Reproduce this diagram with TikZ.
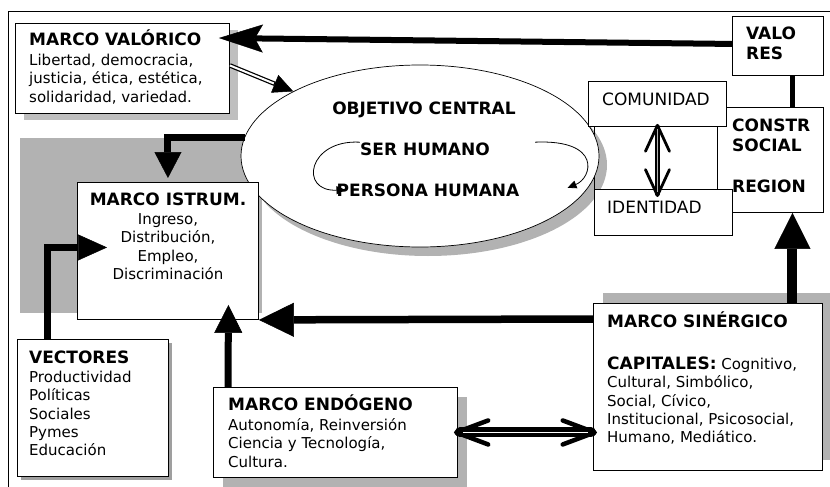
\documentclass[tikz,border=0pt]{standalone}
\usepackage{fontspec}
\setmainfont{DejaVu Sans}
\usetikzlibrary{arrows.meta,shapes.geometric}
\newcommand\bodysize{\fontsize{15}{18.3}\selectfont}
\newcommand\headsize{\fontsize{17}{20}\selectfont\bfseries}
\newcommand\lineup{\rule{0pt}{16pt}}

\begin{document}
\begin{tikzpicture}[x=1pt,y=-1pt,
    box/.style={draw,fill=white,line width=0.9pt,inner sep=0pt,anchor=north west},
    drop/.style={fill=gray!60},
    boxtext/.style={anchor=north west,inner sep=0pt,align=left,font=\bodysize},
    headtext/.style={inner sep=0pt,font=\headsize},
    fat/.style={line width=7pt},
    ]
  \useasboundingbox (0,0) rectangle (830,487);
  \draw[line width=1pt] (8,490) -- (8,12) -- (834,12);

  \fill[gray!50] (24,30) rectangle (238,120);
  \fill[drop] (20,138) rectangle (262,313);
  \fill[drop] (428,165) ellipse [x radius=179pt,y radius=91pt];
  \fill[gray!75] (21,343) rectangle (172,480);
  \fill[drop] (223,397) rectangle (467,490);
  \fill[drop] (603,293) rectangle (834,460);
  \draw[line width=0.9pt] (594,110) rectangle (717,230);

  \node[ellipse,draw,fill=white,line width=0.7pt,inner sep=0pt,
        minimum width=358pt,minimum height=182pt] (objetivo) at (420,156) {};
  \node[box,minimum width=214pt,minimum height=90pt] (valorico) at (15,23) {};
  \node[box,minimum width=91pt,minimum height=59pt] (valores) at (732,16) {};
  \node[box,minimum width=106pt,minimum height=105pt] (constr) at (717,107) {};
  \node[box,minimum width=138pt,minimum height=45pt] (comunidad) at (588,81) {};
  \node[box,minimum width=138pt,minimum height=46pt] (identidad) at (594,189) {};
  \node[box,minimum width=181pt,minimum height=137pt] (istrum) at (77,182) {};
  \node[box,minimum width=151pt,minimum height=137pt] (vectores) at (17,339) {};
  \node[box,minimum width=244pt,minimum height=90pt] (endogeno) at (213,387) {};
  \node[box,minimum width=229pt,minimum height=167pt] (sinergico) at (593,303) {};

  \node[boxtext] (valoricotxt) at (29,29) {{\headsize\lineup MARCO VALÓRICO}\\[2pt]
    Libertad, democracia,\\justicia, ética, estética,\\solidaridad, variedad.};
  \node[boxtext,font=\headsize] (valorestxt) at (746,23) {\lineup VALO\\RES};
  \node[boxtext,anchor=base west,font=\fontsize{17}{20}\selectfont] (comunidadtxt) at (602,105) {COMUNIDAD};
  \node[boxtext,anchor=base west,font=\fontsize{17}{20}\selectfont] (identidadtxt) at (607,213) {IDENTIDAD};
  \node[boxtext,font=\headsize] (constrtxt) at (732,115) {\lineup CONSTR\\SOCIAL\\[21pt]REGION};
  \node[boxtext,anchor=north,align=center] (istrumtxt) at (168,189) {{\headsize\lineup MARCO ISTRUM.}\\[1pt]
    Ingreso,\\Distribución,\\Empleo,\\Discriminación};
  \node[boxtext] (vectorestxt) at (29,347) {{\headsize\lineup VECTORES}\\[1pt]
    Productividad\\Políticas\\Sociales\\Pymes\\Educación};
  \node[boxtext] (endogenotxt) at (228,394) {{\headsize\lineup MARCO ENDÓGENO}\\[2pt]
    Autonomía, Reinversión\\Ciencia y Tecnología,\\Cultura.};
  \node[boxtext] (sinergicotxt) at (607,311) {{\headsize\lineup MARCO SINÉRGICO}\\[24pt]
    {\headsize CAPITALES:} Cognitivo,\\Cultural, Simbólico,\\Social, Cívico,\\
    Institucional, Psicosocial,\\Humano, Mediático.};

  \node[headtext,anchor=base] (central) at (424,114) {OBJETIVO CENTRAL};
  \node[headtext,anchor=base] (ser) at (425,155) {SER HUMANO};
  \node[headtext,anchor=base] (persona) at (428,196) {PERSONA HUMANA};

  \draw[line width=0.8pt,-{Triangle[length=9pt,width=8pt]}] (ser.north west)
    .. controls +(-52,-3) and +(-47,2) .. ([xshift=9pt]persona.west);
  \draw[line width=0.8pt,-{Triangle[length=9pt,width=8pt]}] ([xshift=45pt]ser.north east)
    .. controls +(67,-3) and +(25,-10) .. ([xshift=48pt,yshift=2pt]persona.east);

  \draw[line width=6pt,-{Stealth[length=44pt,width=28pt,inset=8pt,line width=0.5pt]}]
    ([yshift=2pt]valores.west) -- ([xshift=-11pt,yshift=-15pt]valorico.north east);
  \draw[line width=5pt] ([xshift=14.5pt]valores.south) -- ([xshift=22pt]constr.north);
  \draw[line width=10pt,-{Triangle[length=36pt,width=36pt,line width=0.5pt]}]
    ([xshift=84.5pt]sinergico.north) -- ([xshift=22pt]constr.south);
  \draw[line width=7.5pt,-{Triangle[length=35pt,width=34pt,line width=0.5pt]}]
    ([yshift=-16pt]sinergico.north west) -- (istrum.south east);
  \draw[fat,-{Triangle[length=28pt,width=28pt,line width=0.5pt]}]
    ([xshift=15pt]endogeno.north west) -- ([xshift=60.5pt,yshift=15pt]istrum.south);
  \draw[fat,-{Triangle[length=29pt,width=26pt,line width=0.5pt]}]
    ([xshift=-45.5pt]vectores.north) |- ([xshift=30pt,yshift=3.5pt]istrum.west);
  \draw[fat,-{Triangle[length=26pt,width=27pt,line width=0.5pt]}]
    ([xshift=4pt,yshift=19pt]objetivo.west) -| ([yshift=4pt]istrum.north);

  \draw[line width=4.5pt,-{Triangle[length=20pt,width=19pt,line width=0.5pt]}]
    ([yshift=3pt]valorico.east) -- (objetivo.153);
  \draw[white,line width=2pt,shorten >=21pt] ([yshift=3pt]valorico.east) -- (objetivo.153);

  \coordinate (idtop) at (comunidad.south |- identidad.north);
  \draw[line width=2.8pt,{Straight Barb[length=26pt,width=24pt,round]}-{Straight Barb[length=26pt,width=24pt,round]}]
    ([yshift=3pt]comunidad.south) -- ([yshift=-8pt]idtop);
  \draw[line width=4.5pt,line cap=round,shorten <=3pt,shorten >=3pt]
    ([yshift=3pt]comunidad.south) -- ([yshift=-8pt]idtop);
  \draw[gray!60,line width=1.8pt,shorten <=5pt,shorten >=5pt]
    ([yshift=3pt]comunidad.south) -- ([yshift=-8pt]idtop);

  \coordinate (sinleft) at (sinergico.west |- endogeno.east);
  \draw[line width=4.5pt,{Straight Barb[length=32pt,width=24pt,round]}-{Straight Barb[length=32pt,width=24pt,round]}]
    ([xshift=-4pt]endogeno.east) -- ([xshift=4pt]sinleft);
  \draw[line width=10pt,line cap=round,shorten <=6pt,shorten >=6pt]
    ([xshift=-4pt]endogeno.east) -- ([xshift=4pt]sinleft);
  \draw[white,line width=1.2pt,shorten <=9pt,shorten >=9pt]
    ([xshift=-4pt]endogeno.east) -- ([xshift=4pt]sinleft);
\end{tikzpicture}
\end{document}
